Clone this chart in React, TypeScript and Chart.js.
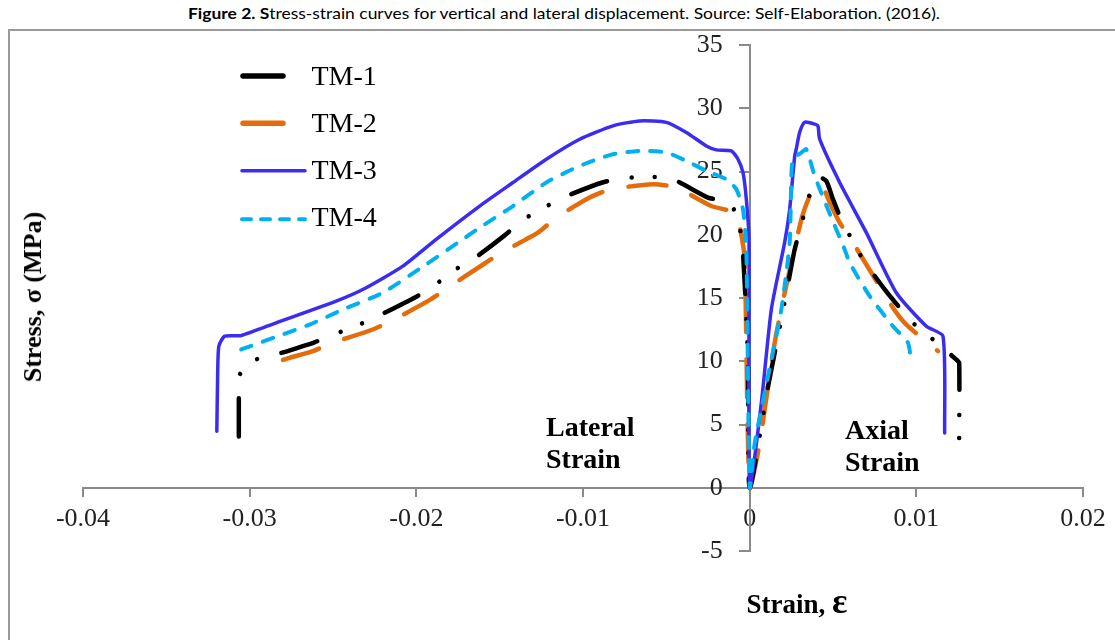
import React, { useEffect, useRef } from 'react';
import { Chart, registerables } from 'chart.js';

Chart.register(...registerables);

// ---- Data (strain ε, stress σ in MPa) ----
const seriesNames = ['TM-1', 'TM-2', 'TM-3', 'TM-4'];

const tm1Strain = [-0.03065, -0.03065, -0.03062, -0.02992, -0.02861, -0.02611, -0.02485, -0.02355, -0.02231, -0.02, -0.01891, -0.01781, -0.01661, -0.0147, -0.01365, -0.01245, -0.0112, -0.00884, -0.00754, -0.0061, -0.0047, -0.0025, -0.00124, -0.0007, -0.0004, -0.0001, 0, 0.0011, 0.0018, 0.0025, 0.0027, 0.0034, 0.0038, 0.0042, 0.0046, 0.005, 0.0055, 0.0061, 0.0068, 0.0081, 0.009, 0.0099, 0.011, 0.0124, 0.01257, 0.01257];
const tm1Stress = [4.06, 7.23, 8.87, 10.0, 10.45, 11.5, 12.17, 12.83, 13.56, 15.1, 16.0, 17.13, 18.05, 19.95, 21.14, 22.06, 22.94, 24.13, 24.47, 24.57, 24.44, 22.94, 22.54, 21.3, 18.58, 10.1, 0, 8.0, 12.64, 17.5, 18.84, 22.27, 23.99, 24.52, 24.25, 22.8, 21.2, 19.7, 18.05, 15.68, 14.23, 12.9, 11.72, 10.13, 9.87, 3.8];

const tm2Strain = [-0.028, -0.02761, -0.02621, -0.02501, -0.02261, -0.02141, -0.01921, -0.01811, -0.0162, -0.0149, -0.0127, -0.0116, -0.0096, -0.0083, -0.0058, -0.0044, -0.0023, -0.0009, -0.0006, -0.0003, 0, 0.0006, 0.0009, 0.0015, 0.0021, 0.0031, 0.0036, 0.004, 0.0044, 0.0049, 0.0054, 0.0062, 0.0086, 0.0094, 0.0113];
const tm2Stress = [10.1, 10.27, 10.8, 11.46, 12.51, 13.25, 14.83, 15.81, 17.47, 18.58, 20.17, 21.35, 22.94, 23.6, 23.99, 23.73, 22.27, 21.75, 20.69, 18.05, 0, 3.5, 6.2, 11.46, 15.4, 21.2, 23.06, 23.99, 23.73, 22.27, 20.96, 19.37, 14.23, 12.9, 10.8];

const tm3Strain = [-0.03197, -0.03192, -0.03185, -0.0315, -0.03051, -0.02841, -0.02481, -0.02301, -0.02081, -0.01881, -0.0162, -0.0142, -0.0122, -0.0102, -0.0082, -0.0066, -0.005, -0.0038, -0.0026, -0.002, -0.0011, -0.0007, -0.0004, -0.0002, -0.00004, 0, 0.0007, 0.0013, 0.0021, 0.0024, 0.0027, 0.0028, 0.003, 0.0033, 0.0039, 0.0041, 0.0042, 0.0054, 0.007, 0.0088, 0.0106, 0.0116, 0.0117];
const tm3Stress = [4.46, 9.0, 11.19, 11.98, 12.03, 13.04, 14.75, 15.81, 17.52, 19.64, 22.27, 24.13, 25.97, 27.55, 28.61, 29.0, 28.88, 28.08, 27.02, 26.71, 26.63, 25.97, 24.92, 22.8, 19.64, 0, 6.7, 14.1, 19.4, 22.0, 26.2, 26.8, 28.1, 28.9, 28.75, 28.6, 27.55, 24.13, 20.17, 15.42, 12.77, 11.98, 4.33];

const tm4Strain = [-0.03051, -0.02641, -0.02441, -0.02201, -0.01941, -0.01721, -0.0162, -0.0142, -0.0122, -0.0102, -0.0082, -0.0066, -0.005, -0.0038, -0.0026, -0.0014, -0.0008, -0.0004, -0.0002, 0, 0.0003, 0.0011, 0.0019, 0.0024, 0.0025, 0.0026, 0.0031, 0.0034, 0.0039, 0.0047, 0.0057, 0.006, 0.0072, 0.0086, 0.0095, 0.00965];
const tm4Stress = [10.93, 12.9, 14.09, 15.42, 17.66, 19.64, 20.56, 22.27, 24.13, 25.44, 26.37, 26.63, 26.5, 25.84, 25.05, 24.39, 23.6, 22.0, 18.84, 0, 3.5, 8.8, 14.1, 19.4, 24.65, 25.97, 26.5, 26.76, 24.65, 22.0, 18.84, 17.79, 15.15, 12.77, 11.46, 10.4];

const xMin = -0.04;
const xMax = 0.02;
const xStep = 0.01;
const yMin = -5;
const yMax = 35;
const yStep = 5;

const seriesColors = ['#000000', '#E46C0A', '#3A2CF0', '#00B0F0'];

function pts(xs: number[], ys: number[]) {
  return xs.map((x, i) => ({ x, y: ys[i] }));
}

const AXIS_GRAY = '#8a8a8a';
const SERIF = "'Liberation Serif', 'Times New Roman', serif";

// plot area geometry (px) used only for layout padding
const PAD = { left: 83, right: 32, top: 45, bottom: 89 };
const Y_LABEL_GAP_PX = 27; // gap between y axis line and right edge of its labels

export default function App() {
  const canvasRef = useRef<HTMLCanvasElement | null>(null);

  useEffect(() => {
    if (!canvasRef.current) return;
    const tickFont = { family: SERIF, size: 26 };
    const plotWidth = 1115 - PAD.left - PAD.right;
    const labelOffsetValue = -(Y_LABEL_GAP_PX * (xMax - xMin)) / plotWidth;
    const common = {
      borderCapStyle: 'round',
      borderJoinStyle: 'round',
      pointRadius: 0,
      fill: false,
      tension: 0.2,
    };
    const chart = new Chart(canvasRef.current, {
      type: 'line',
      data: {
        datasets: [
          {
            ...common,
            label: seriesNames[0],
            data: pts(tm1Strain, tm1Stress),
            borderColor: seriesColors[0],
            borderWidth: 4.5,
            borderDash: [38, 25, 0.01, 23, 0.01, 25],
            order: 2,
          },
          {
            ...common,
            label: seriesNames[1],
            data: pts(tm2Strain, tm2Stress),
            borderColor: seriesColors[1],
            borderWidth: 4.5,
            borderDash: [38, 27],
            order: 3,
          },
          {
            ...common,
            label: seriesNames[2],
            data: pts(tm3Strain, tm3Stress),
            borderColor: seriesColors[2],
            borderWidth: 3.5,
            order: 1,
          },
          {
            ...common,
            label: seriesNames[3],
            data: pts(tm4Strain, tm4Stress),
            borderColor: seriesColors[3],
            borderWidth: 4,
            borderDash: [11, 12],
            order: 0,
          },
        ],
      },
      options: {
        responsive: false,
        animation: false,
        devicePixelRatio: 1,
        events: [],
        layout: { padding: PAD },
        plugins: { legend: { display: false }, tooltip: { enabled: false } },
        scales: {
          x: {
            type: 'linear',
            min: xMin,
            max: xMax,
            position: { y: 0 },
            afterFit: (s: any) => {
              s.height = 0;
            },
            ticks: {
              stepSize: xStep,
              autoSkip: false,
              maxRotation: 0,
              minRotation: 0,
              padding: 8,
              color: '#222',
              font: tickFont,
              callback: (v: any) => (Math.abs(Number(v)) < 1e-9 ? '0' : Number(v).toFixed(2)),
            },
            grid: {
              display: true,
              drawOnChartArea: false,
              drawTicks: true,
              tickLength: 8,
              color: AXIS_GRAY,
              lineWidth: 2,
            },
            border: { display: true, color: AXIS_GRAY, width: 2 },
          },
          y: {
            type: 'linear',
            min: yMin,
            max: yMax,
            position: { x: 0 },
            afterFit: (s: any) => {
              s.width = 0;
            },
            ticks: { stepSize: yStep, display: false },
            grid: {
              display: true,
              drawOnChartArea: false,
              drawTicks: true,
              tickLength: 10,
              color: AXIS_GRAY,
              lineWidth: 2,
            },
            border: { display: true, color: AXIS_GRAY, width: 2 },
          },
          yLabels: {
            type: 'linear',
            axis: 'y',
            min: yMin,
            max: yMax,
            position: { x: labelOffsetValue },
            afterFit: (s: any) => {
              s.width = 0;
            },
            ticks: {
              stepSize: yStep,
              autoSkip: false,
              color: '#222',
              font: tickFont,
              callback: (v: any) => String(Math.round(Number(v))),
            },
            grid: { display: false },
            border: { display: false },
          },
        },
      } as any,
    });
    return () => chart.destroy();
  }, []);

  const legendLineY = [76, 123.3, 170.7, 219.3];
  const legendBaseline = [85, 132.3, 179.3, 226.7];

  return (
    <div
      style={{
        position: 'fixed',
        left: 0,
        top: 0,
        width: 1115,
        height: 640,
        overflow: 'hidden',
        background: '#fff',
      }}
    >
      {/* frame */}
      <div
        style={{
          position: 'absolute',
          left: 8,
          top: 29,
          width: 1200,
          height: 700,
          borderTop: '2px solid #9a9a9a',
          borderLeft: '2px solid #9a9a9a',
        }}
      />
      {/* caption */}
      <div
        style={{
          position: 'absolute',
          left: 564,
          top: 3,
          transform: 'translateX(-50%) scaleX(1.09)',
          whiteSpace: 'nowrap',
          fontFamily: "Lato, 'Open Sans', sans-serif",
          fontSize: 16,
          lineHeight: '20px',
          color: '#000',
        }}
      >
        <b>Figure 2. S</b>tress-strain curves for vertical and lateral displacement. Source: Self-Elaboration. (2016).
      </div>
      <canvas
        ref={canvasRef}
        width={1115}
        height={640}
        style={{ position: 'absolute', left: 0, top: 0, width: 1115, height: 640 }}
      />
      {/* legend */}
      <svg width={400} height={260} style={{ position: 'absolute', left: 0, top: 0 }}>
        <line x1={243} x2={283} y1={legendLineY[0]} y2={legendLineY[0]} stroke={seriesColors[0]} strokeWidth={5.5} strokeLinecap="round" />
        <line x1={243} x2={283} y1={legendLineY[1]} y2={legendLineY[1]} stroke={seriesColors[1]} strokeWidth={5.5} strokeLinecap="round" />
        <line x1={242} x2={305} y1={legendLineY[2]} y2={legendLineY[2]} stroke={seriesColors[2]} strokeWidth={3.5} strokeLinecap="round" />
        <line x1={242} x2={305} y1={legendLineY[3]} y2={legendLineY[3]} stroke={seriesColors[3]} strokeWidth={4} strokeLinecap="round" strokeDasharray="9 10" />
      </svg>
      {seriesNames.map((n, i) => (
        <div
          key={n}
          style={{
            position: 'absolute',
            left: 311.5,
            top: legendBaseline[i] - 25.5,
            fontFamily: SERIF,
            fontSize: 28,
            lineHeight: '32px',
            color: '#000',
            whiteSpace: 'nowrap',
          }}
        >
          {n}
        </div>
      ))}
      {/* annotations */}
      <div
        style={{
          position: 'absolute',
          left: 546,
          top: 410.5,
          fontFamily: SERIF,
          fontWeight: 'bold',
          fontSize: 28,
          lineHeight: '32px',
          color: '#000',
          whiteSpace: 'nowrap',
        }}
      >
        Lateral
        <br />
        Strain
      </div>
      <div
        style={{
          position: 'absolute',
          left: 845,
          top: 414,
          fontFamily: SERIF,
          fontWeight: 'bold',
          fontSize: 28,
          lineHeight: '32px',
          color: '#000',
          whiteSpace: 'nowrap',
        }}
      >
        Axial
        <br />
        Strain
      </div>
      {/* y axis title */}
      <div
        style={{
          position: 'absolute',
          left: 32.5,
          top: 297,
          transform: 'translate(-50%, -50%) rotate(-90deg)',
          fontFamily: SERIF,
          fontWeight: 'bold',
          fontSize: 26,
          lineHeight: '30px',
          color: '#000',
          whiteSpace: 'nowrap',
        }}
      >
        Stress, σ (MPa)
      </div>
      {/* x axis title */}
      <div
        style={{
          position: 'absolute',
          left: 797,
          top: 589,
          transform: 'translateX(-50%)',
          fontFamily: SERIF,
          fontWeight: 'bold',
          fontSize: 27,
          lineHeight: '30px',
          color: '#000',
          whiteSpace: 'nowrap',
        }}
      >
        Strain, <span style={{ fontSize: 36, lineHeight: 0 }}>ε</span>
      </div>
    </div>
  );
}
